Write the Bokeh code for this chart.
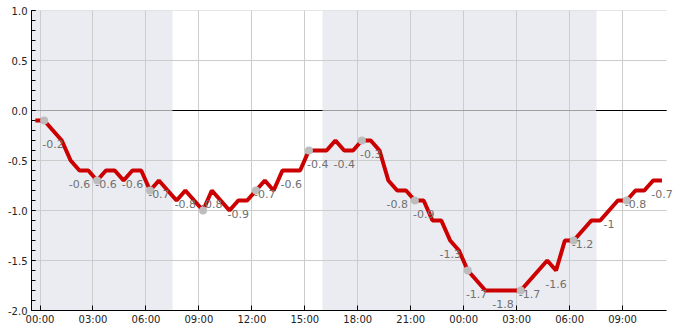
import numpy as np
import pandas as pd
from bokeh.plotting import figure
from bokeh.models import (Range1d, FixedTicker, SingleIntervalTicker, PrintfTickFormatter,
                          DatetimeTickFormatter, ColumnDataSource, Label)
from bokeh.embed import file_html
from bokeh.resources import INLINE

# ---- data (half-hourly readings) ----
start_time = "2023-12-31 23:44"
step = "30min"
values = [-0.1, -0.1, -0.2, -0.3, -0.5, -0.6, -0.6, -0.7, -0.6, -0.6,
          -0.7, -0.6, -0.6, -0.8, -0.7, -0.8, -0.9, -0.8, -0.9, -1.0,
          -0.8, -0.9, -1.0, -0.9, -0.9, -0.8, -0.7, -0.8, -0.6, -0.6,
          -0.6, -0.4, -0.4, -0.4, -0.3, -0.4, -0.4, -0.3, -0.3, -0.4,
          -0.7, -0.8, -0.8, -0.9, -0.9, -1.1, -1.1, -1.3, -1.4, -1.6,
          -1.7, -1.8, -1.8, -1.8, -1.8, -1.8, -1.7, -1.6, -1.5, -1.6,
          -1.3, -1.3, -1.2, -1.1, -1.1, -1.0, -0.9, -0.9, -0.8, -0.8,
          -0.7, -0.7]
times = list(pd.date_range(start_time, periods=len(values), freq=step))

night_start = ["2023-12-31 16:00", "2024-01-01 16:00"]
night_end = ["2024-01-01 07:30", "2024-01-02 07:30"]
baseline = 0.0

tick_times = list(pd.date_range("2024-01-01 00:00", "2024-01-02 09:00", freq="3h"))
x_start = "2023-12-31 23:31"
x_axis_end = "2024-01-02 11:30"   # where the axis and grid stop
x_view_end = "2024-01-02 12:00"   # a little room so the last value label is not cut
y_min, y_max, y_step = -2.0, 1.0, 0.5

marker_every, marker_first = 6, 1
label_every, label_first = 3, 2

# ---- figure ----
xs = pd.Timestamp(x_start)
xa = pd.Timestamp(x_axis_end)
p = figure(width=685, height=330, output_backend="svg", toolbar_location=None,
           x_axis_type="datetime",
           x_range=Range1d(xs, pd.Timestamp(x_view_end)),
           y_range=Range1d(y_min, y_max),
           min_border_left=31, min_border_right=10, min_border_top=10, min_border_bottom=20)
p.outline_line_color = None
p.background_fill_color = "white"

font = "DejaVu Sans"

# x axis
p.xaxis.ticker = FixedTicker(ticks=[t.value // 10**6 for t in tick_times])
p.xaxis.formatter = DatetimeTickFormatter(hours="%H:%M", hourmin="%H:%M", days="%H:%M",
                                          minutes="%H:%M", minsec="%H:%M")
p.xaxis.bounds = (xs.value // 10**6, xa.value // 10**6)
p.xaxis.major_tick_in = 5
p.xaxis.major_tick_out = 0
p.xaxis.minor_tick_line_color = None
p.xaxis.major_label_standoff = 3

# y axis
p.yaxis.ticker = SingleIntervalTicker(interval=y_step, num_minor_ticks=5)
p.yaxis.formatter = PrintfTickFormatter(format="%.1f")
p.yaxis.major_tick_in = 4
p.yaxis.major_tick_out = 0
p.yaxis.minor_tick_in = 4
p.yaxis.minor_tick_out = 0
p.yaxis.major_label_standoff = 4

for ax in (p.xaxis, p.yaxis):
    ax.axis_line_color = "black"
    ax.major_tick_line_color = "black"
    ax.major_label_text_font = font
    ax.major_label_text_font_size = "10px"
    ax.major_label_text_color = "#222222"
p.yaxis.minor_tick_line_color = "black"

p.xgrid.grid_line_color = "#cccccc"
p.ygrid.grid_line_color = None

ns = [pd.Timestamp(s) for s in night_start]
ne = [pd.Timestamp(e) for e in night_end]

# night bands beneath everything
bands = p.vstrip(x0=ns, x1=ne, fill_color="#ebecf1", line_color=None)
bands.level = "image"

# horizontal grid lines, stopping where the axis stops
gy = list(np.arange(y_min, y_max + y_step / 2, y_step))
p.segment(x0=[xs] * len(gy), y0=gy, x1=[xa] * len(gy), y1=gy, line_color="#cccccc", line_width=1)

# zero line: black in daytime, grey inside night bands
p.segment(x0=[xs], y0=[baseline], x1=[xa], y1=[baseline], line_color="black", line_width=1)
p.segment(x0=ns, y0=[baseline] * len(ns), x1=ne, y1=[baseline] * len(ns),
          line_color="#a0a0a0", line_width=1)

# series line
src = ColumnDataSource(dict(t=times, v=values))
p.line("t", "v", source=src, line_color="#cc0000", line_width=4)

# markers
mk = ColumnDataSource(dict(t=times[marker_first::marker_every], v=values[marker_first::marker_every]))
p.scatter("t", "v", source=mk, size=8, fill_color="#bdbdbd", line_color=None)

# value labels
for t, v in zip(times[label_first::label_every], values[label_first::label_every]):
    p.add_layout(Label(x=t.value // 10**6, y=v, text=f"{v:g}", text_align="center",
                       text_baseline="middle", y_offset=-13, text_font=font,
                       text_font_size="11px", text_color="#707070"))

open("out.html", "w").write(file_html(p, INLINE))
